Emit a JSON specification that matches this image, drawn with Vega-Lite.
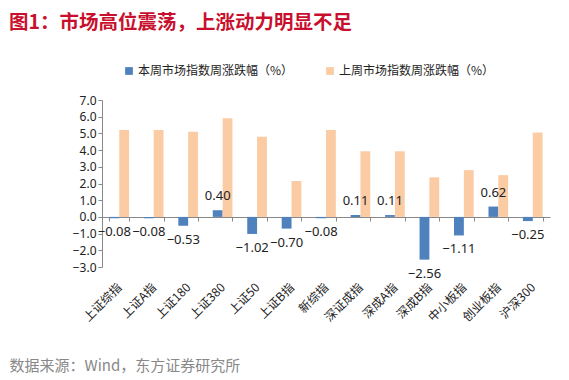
{
  "$schema": "https://vega.github.io/schema/vega-lite/v6.json",
  "width": 448,
  "height": 167,
  "autosize": "none",
  "padding": {"left": 102, "top": 100, "right": 19, "bottom": 113},
  "background": "white",
  "config": {"view": {"stroke": null}},
  "title": {
    "text": "图1：市场高位震荡，上涨动力明显不足",
    "anchor": "start",
    "frame": "group",
    "dx": -93,
    "offset": 32,
    "font": "Noto Sans CJK SC",
    "fontSize": 19.5,
    "fontWeight": "bold",
    "color": "#C8102E"
  },
  "data": {
    "values": [
      {"index": "上证综指", "series": "本周市场指数周涨跌幅（%）", "value": -0.08},
      {"index": "上证A指", "series": "本周市场指数周涨跌幅（%）", "value": -0.08},
      {"index": "上证180", "series": "本周市场指数周涨跌幅（%）", "value": -0.53},
      {"index": "上证380", "series": "本周市场指数周涨跌幅（%）", "value": 0.40},
      {"index": "上证50", "series": "本周市场指数周涨跌幅（%）", "value": -1.02},
      {"index": "上证B指", "series": "本周市场指数周涨跌幅（%）", "value": -0.70},
      {"index": "新综指", "series": "本周市场指数周涨跌幅（%）", "value": -0.08},
      {"index": "深证成指", "series": "本周市场指数周涨跌幅（%）", "value": 0.11},
      {"index": "深成A指", "series": "本周市场指数周涨跌幅（%）", "value": 0.11},
      {"index": "深成B指", "series": "本周市场指数周涨跌幅（%）", "value": -2.56},
      {"index": "中小板指", "series": "本周市场指数周涨跌幅（%）", "value": -1.11},
      {"index": "创业板指", "series": "本周市场指数周涨跌幅（%）", "value": 0.62},
      {"index": "沪深300", "series": "本周市场指数周涨跌幅（%）", "value": -0.25},
      {"index": "上证综指", "series": "上周市场指数周涨跌幅（%）", "value": 5.2},
      {"index": "上证A指", "series": "上周市场指数周涨跌幅（%）", "value": 5.2},
      {"index": "上证180", "series": "上周市场指数周涨跌幅（%）", "value": 5.1},
      {"index": "上证380", "series": "上周市场指数周涨跌幅（%）", "value": 5.9},
      {"index": "上证50", "series": "上周市场指数周涨跌幅（%）", "value": 4.8},
      {"index": "上证B指", "series": "上周市场指数周涨跌幅（%）", "value": 2.15},
      {"index": "新综指", "series": "上周市场指数周涨跌幅（%）", "value": 5.2},
      {"index": "深证成指", "series": "上周市场指数周涨跌幅（%）", "value": 3.93},
      {"index": "深成A指", "series": "上周市场指数周涨跌幅（%）", "value": 3.93},
      {"index": "深成B指", "series": "上周市场指数周涨跌幅（%）", "value": 2.37},
      {"index": "中小板指", "series": "上周市场指数周涨跌幅（%）", "value": 2.8},
      {"index": "创业板指", "series": "上周市场指数周涨跌幅（%）", "value": 2.5},
      {"index": "沪深300", "series": "上周市场指数周涨跌幅（%）", "value": 5.05}
    ]
  },
  "encoding": {
    "x": {
      "field": "index",
      "type": "nominal",
      "sort": null,
      "scale": {"paddingInner": 0.43, "paddingOuter": 0.215},
      "axis": {
        "offset": -50,
        "labelAngle": -45,
        "labelAlign": "right",
        "labelBaseline": "middle",
        "labelPadding": 64,
        "labelFont": "Noto Sans CJK SC",
        "labelFontSize": 12,
        "labelColor": "#222222",
        "tickBand": "extent",
        "tickSize": 4,
        "tickColor": "#888888",
        "domainColor": "#888888",
        "title": "数据来源：Wind，东方证券研究所",
        "titleAnchor": "start",
        "titleAlign": "left",
        "titleX": -93,
        "titleY": 141,
        "titleFont": "Noto Sans CJK SC",
        "titleFontSize": 15,
        "titleFontWeight": "normal",
        "titleColor": "#888888"
      }
    },
    "xOffset": {"field": "series", "type": "nominal", "sort": null},
    "y": {
      "field": "value",
      "type": "quantitative",
      "scale": {"domain": [-3, 7], "nice": false},
      "axis": {
        "values": [-3, -2, -1, 0, 1, 2, 3, 4, 5, 6, 7],
        "format": ".1f",
        "grid": false,
        "title": null,
        "labelFont": "Noto Sans",
        "labelFontSize": 12,
        "labelColor": "#222222",
        "tickSize": 4,
        "labelPadding": 2,
        "tickColor": "#888888",
        "domainColor": "#888888"
      }
    }
  },
  "layer": [
    {
      "mark": {"type": "bar"},
      "encoding": {
        "color": {
          "field": "series",
          "type": "nominal",
          "sort": null,
          "scale": {"range": ["#4F81BD", "#FBCBA3"]},
          "legend": {
            "title": null,
            "orient": "none",
            "legendX": 21,
            "legendY": -35,
            "direction": "horizontal",
            "symbolType": "square",
            "symbolSize": 60,
            "symbolStrokeWidth": 0,
            "labelOffset": 3,
            "labelFont": "Noto Sans CJK SC",
            "labelFontSize": 12,
            "labelColor": "#222222",
            "columnPadding": 30,
            "labelLimit": 300
          }
        }
      }
    },
    {
      "transform": [
        {"filter": "datum.series === '本周市场指数周涨跌幅（%）' && datum.value >= 0"}
      ],
      "mark": {"type": "text", "dy": -14, "font": "Noto Sans", "fontSize": 13, "color": "#222222"},
      "encoding": {"text": {"field": "value", "type": "quantitative", "format": ".2f"}}
    },
    {
      "transform": [
        {"filter": "datum.series === '本周市场指数周涨跌幅（%）' && datum.value < 0"}
      ],
      "mark": {"type": "text", "dy": 14, "font": "Noto Sans", "fontSize": 13, "color": "#222222"},
      "encoding": {"text": {"field": "value", "type": "quantitative", "format": ".2f"}}
    }
  ]
}
